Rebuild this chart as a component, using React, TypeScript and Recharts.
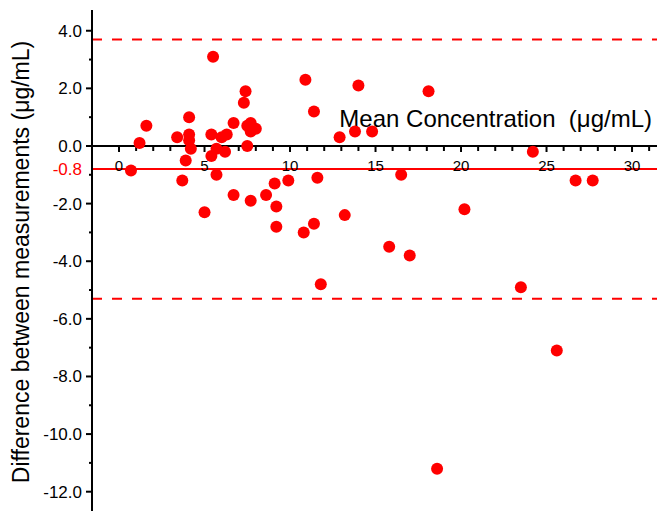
import { ScatterChart, Scatter, XAxis, YAxis, ReferenceLine, ReferenceDot } from "recharts";

// Bland-Altman data
const meanConc = [
  5.5, 10.9, 14.0, 7.4, 7.3, 11.4, 1.6, 4.1, 6.7, 7.5, 7.7, 8.0, 7.7, 3.4, 4.1, 4.1, 5.4, 6.0, 6.3,
  1.2, 4.2, 7.5, 5.7, 5.4, 6.2, 12.9, 13.8, 14.8, 18.1, 24.2, 0.7, 3.9, 5.7, 3.7, 9.9, 11.6, 9.1,
  6.7, 8.6, 7.7, 9.2, 5.0, 13.2, 9.2, 11.4, 10.8, 11.8, 15.8, 17.0, 16.5, 20.2, 26.7, 27.7, 23.5,
  25.6, 18.6,
];
const diffs = [
  3.1, 2.3, 2.1, 1.9, 1.5, 1.2, 0.7, 1.0, 0.8, 0.7, 0.8, 0.6, 0.5, 0.3, 0.4, 0.2, 0.4, 0.3, 0.4,
  0.1, -0.1, 0.0, -0.1, -0.35, -0.2, 0.3, 0.5, 0.5, 1.9, -0.2, -0.85, -0.5, -1.0, -1.2, -1.2, -1.1,
  -1.3, -1.7, -1.7, -1.9, -2.1, -2.3, -2.4, -2.8, -2.7, -3.0, -4.8, -3.5, -3.8, -1.0, -2.2, -1.2,
  -1.2, -4.9, -7.1, -11.2,
];

const meanDiff = -0.8;
const upperLoA = 3.7;
const lowerLoA = -5.3;

const xTicks = Array.from({ length: 32 }, (_, i) => i);
const xLabelTicks = [0, 5, 10, 15, 20, 25, 30];
const yTicks = [-12, -11, -10, -9, -8, -7, -6, -5, -4, -3, -2, -1, meanDiff, 0, 1, 2, 3, 4];
const yLabelTicks = [-12, -10, -8, -6, -4, -2, 0, 2, 4];

const points = meanConc.map((x, i) => ({ x, y: diffs[i] }));

const RED = "#ff0000";
const FONT = '"Liberation Sans", Arial, sans-serif';

function YTick(props: any) {
  const { x, y, payload } = props;
  const v = payload.value;
  if (v === meanDiff) {
    return (
      <text x={x - 10} y={y} dy={6} textAnchor="end" fill={RED} fontSize={17} fontFamily={FONT}>
        {v.toFixed(1)}
      </text>
    );
  }
  const major = yLabelTicks.includes(v);
  return (
    <g>
      <line x1={x - (major ? 6 : 3)} x2={x} y1={y} y2={y} stroke="#000" strokeWidth={2} />
      {major && (
        <text x={x - 10} y={y} dy={6} textAnchor="end" fill="#000" fontSize={17} fontFamily={FONT}>
          {v.toFixed(1)}
        </text>
      )}
    </g>
  );
}

function XTick({ cx, cy, value }: any) {
  const major = xLabelTicks.includes(value);
  return (
    <g>
      <line x1={cx} x2={cx} y1={cy} y2={cy + (major ? 6 : 5)} stroke="#000" strokeWidth={2} />
      {major && (
        <text x={cx} y={cy + 25} textAnchor="middle" fill="#000" fontSize={15} fontFamily={FONT}>
          {value}
        </text>
      )}
    </g>
  );
}

export default function App() {
  return (
    <div>
      <style>{`body{margin:0}`}</style>
      <ScatterChart width={657} height={511} margin={{ top: 10, right: 0, bottom: 0, left: 0 }}>
        <XAxis type="number" dataKey="x" domain={[-1.58, 31.46]} allowDataOverflow hide />
        <YAxis
          type="number"
          dataKey="y"
          domain={[-12.67, 4.72]}
          allowDataOverflow
          ticks={yTicks}
          interval={0}
          tick={YTick}
          tickSize={0}
          tickMargin={0}
          tickLine={false}
          axisLine={{ stroke: "#000", strokeWidth: 2 }}
          width={92}
          label={{
            content: () => (
              <text
                transform="translate(29, 262) rotate(-90)"
                textAnchor="middle"
                fill="#000"
                fontSize={23}
                fontFamily={FONT}
              >
                Difference between measurements (μg/mL)
              </text>
            ),
          }}
        />
        <ReferenceLine y={upperLoA} stroke={RED} strokeWidth={2} strokeDasharray="10 10" />
        <ReferenceLine y={lowerLoA} stroke={RED} strokeWidth={2} strokeDasharray="10 10" />
        <ReferenceLine y={meanDiff} stroke={RED} strokeWidth={2} />
        <ReferenceLine
          y={0}
          stroke="#000"
          strokeWidth={2}
          label={{
            content: (p: any) => (
              <text
                x={p.viewBox.x + p.viewBox.width - 5}
                y={p.viewBox.y - 19}
                textAnchor="end"
                fill="#000"
                fontSize={24}
                fontFamily={FONT}
                style={{ whiteSpace: "pre" }}
              >
                {"Mean Concentration  (μg/mL)"}
              </text>
            ),
          }}
        />
        {xTicks.map((t) => (
          <ReferenceDot
            key={t}
            x={t}
            y={0}
            r={0}
            shape={(p: any) => <XTick cx={p.cx} cy={p.cy} value={t} />}
          />
        ))}
        <Scatter
          data={points}
          fill={RED}
          isAnimationActive={false}
          shape={(p: any) => <circle cx={p.cx} cy={p.cy} r={6} fill={RED} />}
        />
      </ScatterChart>
    </div>
  );
}
